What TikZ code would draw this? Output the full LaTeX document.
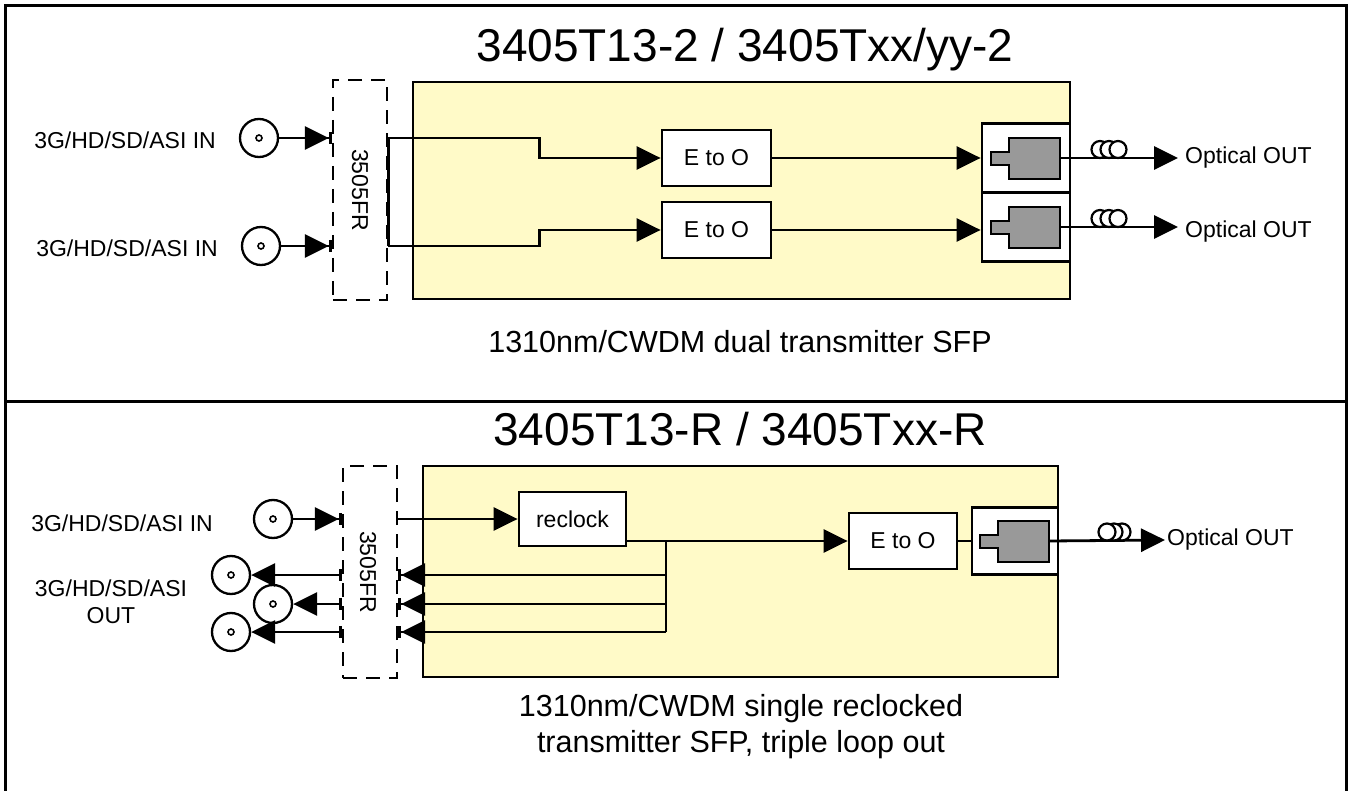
\documentclass[tikz,border=0pt]{standalone}
\usepackage{fontspec}
\setmainfont{Liberation Sans}
\usetikzlibrary{arrows.meta}
\definecolor{cardyellow}{RGB}{255,250,200}
\definecolor{portgrey}{RGB}{153,153,153}
\tikzset{
  outerframe/.style={line width=3pt},
  card/.style={draw, line width=2.8pt, fill=cardyellow, inner sep=0pt},
  blk/.style={draw, fill=white, line width=2.8pt, inner sep=0pt, font=\fontsize{23}{27}\selectfont},
  sfpbox/.style={draw, fill=white, line width=2.8pt, inner sep=0pt, minimum width=88pt},
  frbox/.style={draw, line width=2.8pt, dash pattern=on 14pt off 9pt, inner sep=0pt, minimum width=54pt},
  wire/.style={line width=2.8pt},
  sig/.style={wire, -{Triangle[length=24pt,width=23pt]}},
  sigbar/.style={wire, -{Triangle[length=24pt,width=23pt,sep=0pt]Bar[width=12pt]}},
  barsig/.style={wire, {Bar[width=12pt]}-{Triangle[length=24pt,width=23pt]}},
  bnc/.style={circle, draw, line width=2.3pt, minimum size=38pt, inner sep=0pt,
    path picture={\draw[line width=1.6pt] (path picture bounding box.center) circle (3pt);}},
  plug/.style={draw, line width=2.8pt, fill=portgrey},
  fiberloop/.style={draw, line width=2.2pt, fill=white},
  lbl/.style={font=\fontsize{23}{27}\selectfont, inner sep=0pt},
  ttl/.style={font=\fontsize{46}{52}\selectfont, inner sep=0pt, anchor=base},
  captxt/.style={font=\fontsize{30.5}{36}\selectfont, inner sep=0pt, align=center},
}
% grey SFP plug drawn inside a port box
\newcommand{\sfpplug}[1]{\draw[plug] ([shift={(-17,-20)}]#1) -- ++(51,0) -- ++(0,41) -- ++(-51,0) -- ++(0,-14) -- ++(-18,0) -- ++(0,-13) -- ++(18,0) -- cycle;}
\begin{document}
\begin{tikzpicture}[x=1pt,y=-1pt]
\useasboundingbox (0,0) rectangle (1351,791);
% outer frames
\draw[outerframe] (5,6) rectangle (1346,401);
\draw[outerframe] (5,800) -- (5,401) -- (1346,401) -- (1346,800);

% ---- dual transmitter ----
\node[ttl] (ttlA) at (745,62) {3405T13-2 / 3405Txx/yy-2};
\node[card, minimum width=657pt, minimum height=217pt] (cardA) at (741.5,190.5) {};
\node[frbox, minimum height=220pt] (frA) at (360,190) {};
\node[lbl, rotate=-90] (frlblA) at (360,190) {3505FR};
\node[lbl, anchor=east] (inA1) at (216,140) {3G/HD/SD/ASI IN};
\node[lbl, anchor=east] (inA2) at (218,248) {3G/HD/SD/ASI IN};
\node[bnc] (bncA1) at (259,138) {};
\node[bnc] (bncA2) at (261,246) {};
\node[blk, minimum width=109pt, minimum height=56pt] (eoA1) at (716.5,158) {E to O};
\node[blk, minimum width=109pt, minimum height=56pt] (eoA2) at (716.5,230) {E to O};
\node[sfpbox, minimum height=69pt] (sfpA1) at (1026,158) {};
\node[sfpbox, minimum height=69pt] (sfpA2) at (1026,227) {};
\sfpplug{sfpA1.center}
\sfpplug{sfpA2.center}
\node[lbl, anchor=west] (optA1) at (1185,158) {Optical OUT};
\node[lbl, anchor=west] (optA2) at (1185,232) {Optical OUT};
\node[captxt] (capA) at (740,342) {1310nm/CWDM dual transmitter SFP};

\draw[sigbar] (bncA1) -- (frA.west |- bncA1);
\draw[sigbar] (bncA2) -- (frA.west |- bncA2);
\draw[wire] (frA.east |- bncA1) -- (frA.east |- bncA2);
\draw[sig] (frA.east |- bncA1) -- ++(151,0) |- (eoA1.west);
\draw[sig] (frA.east |- bncA2) -- ++(151,0) |- (eoA2.west);
\draw[sig] (eoA1.east) -- (sfpA1.west);
\draw[sig] (eoA2.east) -- (sfpA2.west |- eoA2.east);
\draw[sig] ([xshift=34pt]sfpA1.center) -- ([xshift=-7pt]optA1.west);
\draw[sig] ([xshift=34pt]sfpA2.center) -- ([xshift=-7pt]optA2.west |- sfpA2.center);
\foreach \dx in {0,9,18} {
  \draw[fiberloop] (1100+\dx,149.5) circle (8.5pt);
  \draw[fiberloop] (1100+\dx,218.5) circle (8.5pt);
}

% ---- reclocked transmitter ----
\node[ttl] (ttlB) at (740,445) {3405T13-R / 3405Txx-R};
\node[card, minimum width=635pt, minimum height=211pt] (cardB) at (740.5,571.5) {};
\node[frbox, minimum height=212pt] (frB) at (370,572) {};
\node[lbl, rotate=-90] (frlblB) at (368,572) {3505FR};
\node[lbl, anchor=east] (inB) at (213,523) {3G/HD/SD/ASI IN};
\node[lbl, align=center] (outB) at (111,602) {3G/HD/SD/ASI\\OUT};
\node[bnc] (bncB0) at (273,519) {};
\node[bnc] (bncB1) at (231,575) {};
\node[bnc] (bncB2) at (273,604) {};
\node[bnc] (bncB3) at (231,632) {};
\node[blk, minimum width=107pt, minimum height=54pt] (rck) at (572.5,519) {reclock};
\node[blk, minimum width=108pt, minimum height=56pt] (eoB) at (903,541) {E to O};
\node[sfpbox, minimum width=86pt, minimum height=67pt] (sfpB) at (1015,541) {};
\sfpplug{sfpB.center}
\node[lbl, anchor=west] (optB) at (1167,540) {Optical OUT};
\node[captxt] (capB) at (741,727) {1310nm/CWDM single reclocked\\transmitter SFP, triple loop out};
\coordinate (busB) at (666,541);

\draw[sigbar] (bncB0) -- (frB.west |- bncB0);
\draw[sig] (frB.east |- bncB0) -- (rck.west);
\draw[sig] (rck.east |- eoB.west) -- (eoB.west);
\draw[wire] (eoB.east) -- (sfpB.west);
\draw[wire] (busB) -- (busB |- bncB3);
\foreach \n in {1,2,3} {
  \draw[sigbar] (busB |- bncB\n) -- (frB.east |- bncB\n);
  \draw[barsig] (frB.west |- bncB\n) -- (bncB\n);
}
\draw[sig] ([xshift=34pt]sfpB.center) -- ([xshift=-2pt]optB.west);
\foreach \dx in {15,7,0} \draw[fiberloop] (1107+\dx,532) circle (8.5pt);
\end{tikzpicture}
\end{document}
